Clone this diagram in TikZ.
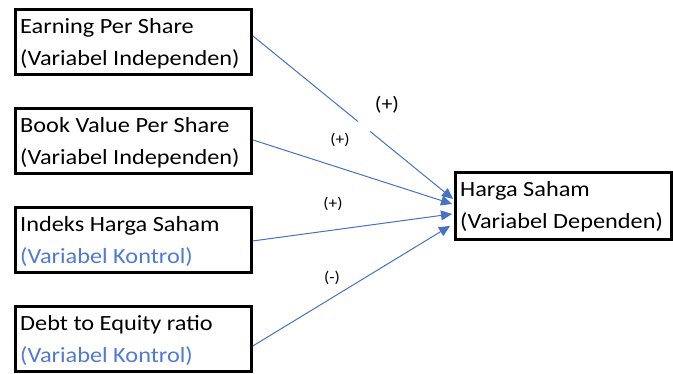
\documentclass[tikz,border=0pt]{standalone}
\usepackage{fontspec}
\setmainfont[FakeStretch=1.12]{Carlito}
\usetikzlibrary{arrows.meta,calc}
\definecolor{linkblue}{HTML}{4472C4}
\definecolor{ctrlblue}{HTML}{4F7BD4}

\begin{document}
\begin{tikzpicture}[x=1pt,y=-1pt,
  varbox/.style={draw=black, line width=2.9pt, fill=none, minimum width=236pt,
    minimum height=65pt, inner sep=0pt, anchor=north west},
  depbox/.style={varbox, minimum width=216pt, minimum height=67pt},
  vartext/.style={font=\fontsize{21.7}{32}\selectfont, text=black, inner sep=0pt, anchor=base west},
  ctrltext/.style={vartext, text=ctrlblue},
  link/.style={draw=linkblue, line width=1pt, -{Triangle[length=11pt,width=10pt]}},
  sign/.style={font=\fontsize{15.5}{18}\selectfont, text=black, inner sep=0pt},
  bigsign/.style={sign, font=\fontsize{19.5}{24}\selectfont}
]
\useasboundingbox (0,0) rectangle (673,374);

% independent and control variables
\node[varbox] (eps) at (14,8) {};
\node[vartext] (epsA) at (20,34) {Earning Per Share};
\node[vartext] (epsB) at (20,66) {(Variabel Independen)};

\node[varbox] (bvps) at (14,107) {};
\node[vartext] (bvpsA) at (20,133) {Book Value Per Share};
\node[vartext] (bvpsB) at (20,165) {(Variabel Independen)};

\node[varbox] (ihs) at (14,206) {};
\node[vartext] (ihsA) at (20,232) {Indeks Harga Saham};
\node[ctrltext] (ihsB) at (20,264) {(Variabel Kontrol)};

\node[varbox] (der) at (14,305) {};
\node[vartext] (derA) at (20,331) {Debt to Equity ratio};
\node[ctrltext] (derB) at (20,363) {(Variabel Kontrol)};

% dependent variable
\node[depbox] (hs) at (454,171) {};
\node[vartext] (hsA) at (460,197) {Harga Saham};
\node[vartext] (hsB) at (460,229) {(Variabel Dependen)};

% connectors
\coordinate (s1) at ($(eps.east)+(0,-6)$);
\coordinate (t1) at ($(hs.west)+(-1,-7)$);
\draw[link] (s1) -- (t1);
\draw[white, line width=3pt] ($(s1)!0.525!(t1)$) -- ($(s1)!0.585!(t1)$);
\draw[link] ($(bvps.east)+(0,-1)$) -- ($(hs.west)+(-2,-2)$);
\draw[link] ($(ihs.east)+(0,1)$) -- ($(hs.west)+(-2,8)$);
\draw[link] ($(der.east)+(0,7)$) -- ($(hs.west)+(-4,20)$);

% signs of the relations
\node[bigsign] (sg1) at (387,105) {(+)};
\node[sign] (sg2) at (340,140) {(+)};
\node[sign] (sg3) at (333,204) {(+)};
\node[sign] (sg4) at (332,278) {(-)};
\end{tikzpicture}
\end{document}
